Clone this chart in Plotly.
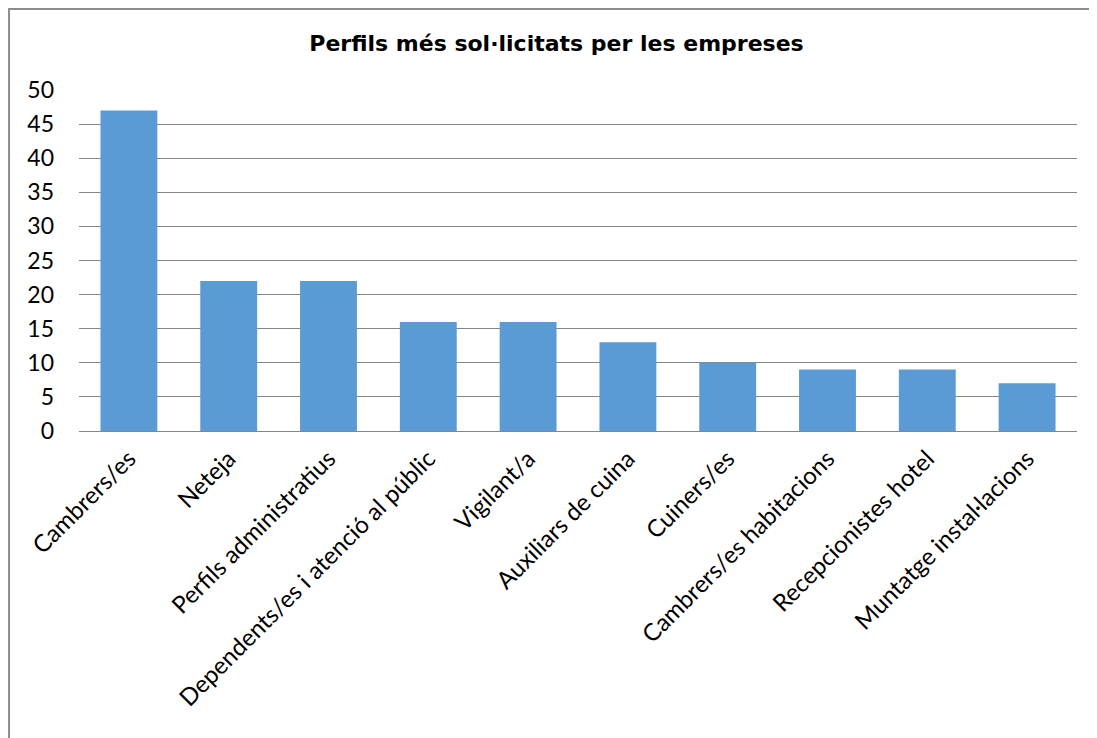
import plotly.graph_objects as go

categories = ["Cambrers/es", "Neteja", "Perfils administratius",
              "Dependents/es i atenció al públic", "Vigilant/a",
              "Auxiliars de cuina", "Cuiners/es", "Cambrers/es habitacions",
              "Recepcionistes hotel", "Muntatge instal·lacions"]
values = [47, 22, 22, 16, 16, 13, 10, 9, 9, 7]
y_ticks = [0, 5, 10, 15, 20, 25, 30, 35, 40, 45, 50]

fig = go.Figure()
fig.add_trace(go.Bar(x=categories, y=values, marker=dict(color="#5B9BD5", line=dict(width=0))))

# page body has an 8px margin, so margins are shifted to land the plot area in place
fig.update_layout(
    width=1097, height=738,
    margin=dict(l=71, r=28, t=82, b=315),
    paper_bgcolor="white", plot_bgcolor="white",
    bargap=0.43,
    showlegend=False,
    title=dict(text="<b>Perfils més sol·licitats per les empreses</b>",
               x=0.5, xanchor="center", y=0.9526, yanchor="middle",
               font=dict(family="DejaVu Sans", size=22, color="black")),
    font=dict(family="Lato", size=24, color="black"),
)
fig.update_xaxes(tickangle=-45, showgrid=False, showline=False, ticks="",
                 ticklabelstandoff=8, tickfont=dict(family="Lato", size=24))
fig.update_yaxes(range=[0, 50], tickvals=y_ticks, showgrid=True, gridcolor="#868686",
                 gridwidth=1.3, zeroline=True, zerolinecolor="#868686", zerolinewidth=1.3,
                 ticks="", ticklabelstandoff=24, tickfont=dict(family="Lato", size=23))

# chart frame
fig.add_shape(type="rect", xref="paper", yref="paper",
              x0=-0.0701, x1=1.2, y0=-1.2, y1=1.2375,
              line=dict(color="#8c8c8c", width=2), fillcolor="rgba(0,0,0,0)", layer="below")

fig.write_html("out.html")
